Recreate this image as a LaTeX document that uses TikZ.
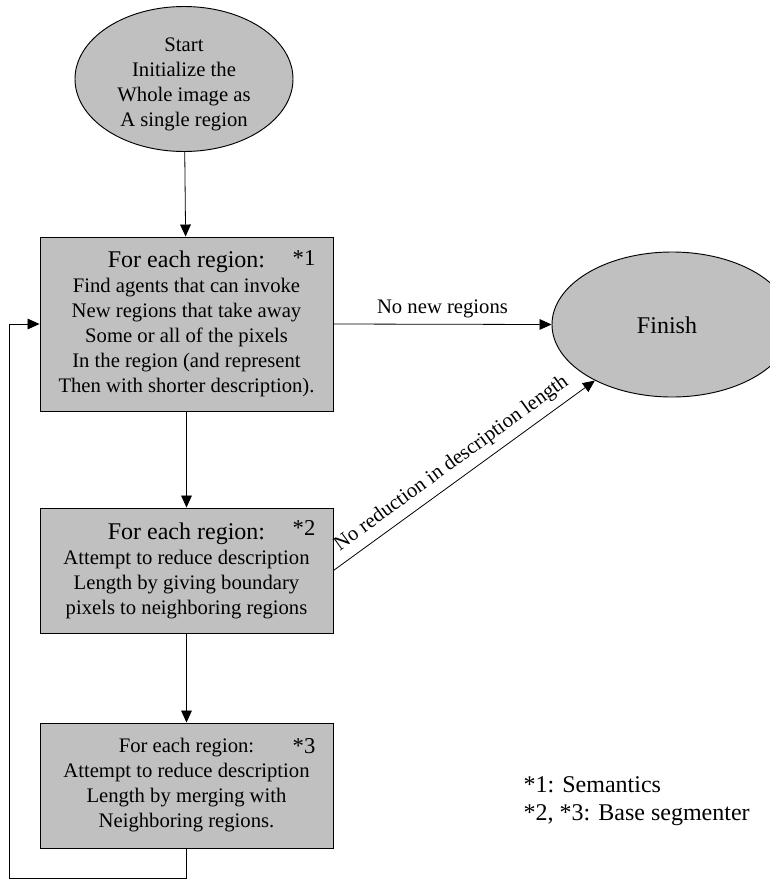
\documentclass[tikz,border=0pt]{standalone}
\usepackage{fontspec}
\setmainfont{Liberation Serif}
\usetikzlibrary{shapes.geometric,arrows.meta}
\definecolor{grayfill}{HTML}{C0C0C0}
\begin{document}
\begin{tikzpicture}[x=0.75pt,y=-0.75pt,
  term/.style={ellipse,draw,fill=grayfill,line width=0.7pt,inner sep=0pt,align=center},
  stepbox/.style={rectangle,draw,fill=grayfill,line width=0.7pt,inner sep=0pt,
    minimum width=219.75pt,align=center,font=\fontsize{15.5}{18.75}\selectfont},
  body/.style={font=\fontsize{15.5}{18.75}\selectfont},
  arr/.style={-{Triangle[length=9pt,width=8pt]},line width=0.6pt},
  ln/.style={line width=0.6pt}]
\useasboundingbox (0,0) rectangle (770,879);

\node[term,minimum width=163.5pt,minimum height=108.75pt] (start) at (184,79) {};
\node[align=center,font=\fontsize{15.5}{18.75}\selectfont] (starttext) at (184,84)
  {Start\\Initialize the\\Whole image as\\A single region};

\node[term,minimum width=180pt,minimum height=108.75pt] (fin) at (672,324.5) {};
\node[font=\fontsize{18}{21}\selectfont] (fintext) at (667,325) {Finish};

\node[stepbox,minimum height=130.5pt] (b1) at (186.5,324)
  {{\fontsize{18}{21}\selectfont For each region:}\\Find agents that can invoke\\New regions that take away\\Some or all of the pixels\\In the region (and represent\\Then with shorter description).};
\node[stepbox,minimum height=93.75pt] (b2) at (186.5,570.5)
  {{\fontsize{18}{21}\selectfont For each region:}\\Attempt to reduce description\\Length by giving boundary\\pixels to neighboring regions};
\node[stepbox,minimum height=93.75pt] (b3) at (186.5,785.5)
  {For each region:\\Attempt to reduce description\\Length by merging with\\Neighboring regions.};

\node[font=\fontsize{17}{20}\selectfont] (s1) at (304,258) {*1};
\node[font=\fontsize{17}{20}\selectfont] (s2) at (304,528) {*2};
\node[font=\fontsize{17}{20}\selectfont] (s3) at (304,746) {*3};

\node[anchor=west,align=left,font=\fontsize{18}{20.5}\selectfont] (legend) at (519,801)
  {*1: Semantics\\*2, *3: Base segmenter};

\draw[arr] (start) -- (b1);
\draw[arr] (b1) -- (b2);
\draw[arr] (b2) -- (b3);
\draw[arr] (b1.east) -- node[above,body,yshift=1pt] {No new regions} (fin.west);
\draw[arr] (b2.east) -- node[above,sloped,body,pos=0.49,yshift=2pt] {No reduction in description length} (fin);
\coordinate (lp) at (9,878);
\draw[ln] (b3.south) |- (lp);
\draw[arr] (lp) |- (b1.west);
\end{tikzpicture}
\end{document}
